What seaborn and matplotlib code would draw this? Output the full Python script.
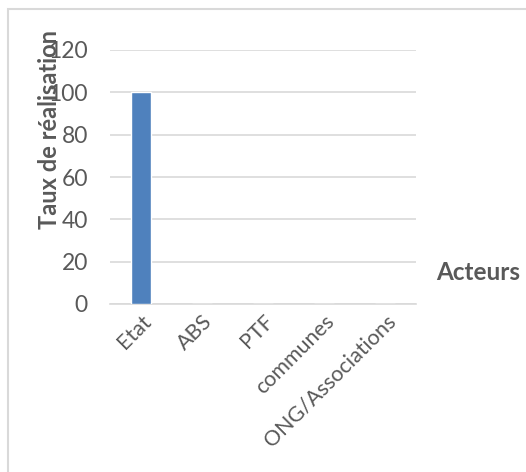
import matplotlib
matplotlib.use('Agg')
import matplotlib.pyplot as plt
import seaborn as sns
import pandas as pd
from matplotlib.patches import Rectangle

# Data
acteurs = ['Etat', 'ABS', 'PTF', 'communes', 'ONG/Associations']
taux = [100, 0, 0, 0, 0]
yticks = [0, 20, 40, 60, 80, 100, 120]

sns.set_style('white')
plt.rcParams['font.family'] = ['Lato', 'DejaVu Sans']

W, H = 526, 472
fig = plt.figure(figsize=(W / 100, H / 100), dpi=100)

# plot area in pixels: x 110..416, y 50..304
ax = fig.add_axes([110 / W, 1 - 304 / H, 306 / W, 254 / H])

df = pd.DataFrame({'Acteurs': acteurs, 'Taux': taux})
sns.barplot(data=df, x='Acteurs', y='Taux', color='#4f81bd', saturation=1,
            width=0.33, ax=ax, zorder=3)

ax.set_ylim(0, 120)
ax.set_yticks(yticks)
ax.set_xlim(-0.5, len(acteurs) - 0.5)
ax.yaxis.grid(True, color='#d9d9d9', linewidth=1.2, zorder=0)
for s in ['top', 'right', 'left']:
    ax.spines[s].set_visible(False)
ax.spines['bottom'].set_color('#d9d9d9')
ax.spines['bottom'].set_linewidth(1.2)
ax.tick_params(axis='both', length=0, colors='#595959', labelsize=16.5)
ax.tick_params(axis='y', pad=16)
ax.tick_params(axis='x', pad=5)
ax.set_xticks(range(len(acteurs)))
ax.set_xticklabels(acteurs, rotation=45, ha='right', rotation_mode='anchor',
                   fontsize=15.5)
ax.set_xlabel('')
ax.set_ylabel('')

# axis titles
fig.text(50 / W, 1 - 130 / H, 'Taux de réalisation', rotation=90,
         ha='center', va='center', fontsize=17, fontweight='bold', color='#595959')
fig.text(478 / W, 1 - 273 / H, 'Acteurs', ha='center', va='center',
         fontsize=17.5, fontweight='bold', color='#595959')

# chart frame
fig.patches.append(Rectangle((8 / W, -0.1), 1.2, 1 - 9 / H + 0.1,
                             transform=fig.transFigure, fill=False,
                             edgecolor='#d9d9d9', linewidth=1.5))

fig.savefig('out.png', dpi=100)
